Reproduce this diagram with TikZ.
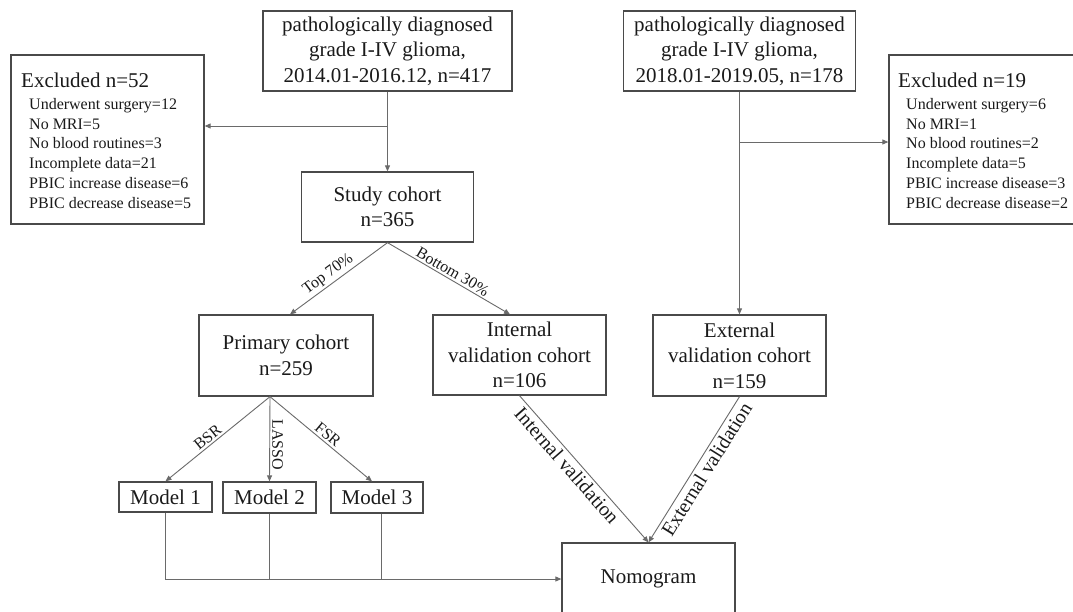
\documentclass[tikz,border=0pt]{standalone}
\usepackage{fontspec}
\setmainfont{Liberation Serif}
\usetikzlibrary{arrows.meta}
\definecolor{txt}{HTML}{1A1A1A}
\definecolor{boxc}{HTML}{4A4A4A}
\definecolor{linec}{HTML}{6A6A6A}
\begin{document}
\begin{tikzpicture}[x=1pt,y=-1pt,
  box/.style={draw=boxc, line width=1.3pt, rectangle, inner sep=0pt, align=center, text=txt, font=\fontsize{21}{25.5}\selectfont},
  frame/.style={draw=boxc, line width=1.3pt, rectangle, inner sep=0pt},
  title/.style={anchor=base west, inner sep=0pt, text=txt, font=\fontsize{21}{25}\selectfont},
  item/.style={anchor=base west, inner sep=0pt, text=txt, font=\fontsize{16}{19}\selectfont},
  conn/.style={draw=linec, line width=0.9pt},
  arr/.style={conn, -{Triangle[length=6pt,width=5pt]}},
  lab/.style={font=\fontsize{16}{19}\selectfont, text=txt, inner sep=2pt, sloped, above},
  vlab/.style={font=\fontsize{20}{24}\selectfont, text=txt, inner sep=3pt, sloped, below}]
\useasboundingbox (0,0) rectangle (1073,611);
\clip (0,0) rectangle (1073,611);
\fill[white] (0,0) rectangle (1073,611);

% source boxes
\node[box, minimum width=249, minimum height=80] (srcA) at (387.5,51) {pathologically diagnosed\\grade I-IV glioma,\\2014.01-2016.12, n=417};
\node[box, minimum width=232, minimum height=80] (srcB) at (739.5,51) {pathologically diagnosed\\grade I-IV glioma,\\2018.01-2019.05, n=178};

% excluded boxes
\node[frame, minimum width=193, minimum height=169] (exL) at (107.5,139.5) {};
\node[title] (exLt) at (21,87.3) {Excluded n=52};
\foreach \t [count=\i] in {Underwent surgery=12, No MRI=5, No blood routines=3, Incomplete data=21, PBIC increase disease=6, PBIC decrease disease=5}
  \node[item] (exLi\i) at (29,{89.8+19.7*\i}) {\t};

\node[frame, minimum width=196, minimum height=169] (exR) at (987,139.5) {};
\node[title] (exRt) at (898,87.3) {Excluded n=19};
\foreach \t [count=\i] in {Underwent surgery=6, No MRI=1, No blood routines=2, Incomplete data=5, PBIC increase disease=3, PBIC decrease disease=2}
  \node[item] (exRi\i) at (906,{89.8+19.7*\i}) {\t};

% cohorts
\node[box, minimum width=172, minimum height=70] (study) at (387.5,207) {Study cohort\\n=365};
\node[box, minimum width=174, minimum height=81] (prim) at (286,355.5) {Primary cohort\\n=259};
\node[box, minimum width=173, minimum height=80] (int) at (519.5,355) {Internal\\validation cohort\\n=106};
\node[box, minimum width=173, minimum height=81] (ext) at (739.5,355.5) {External\\validation cohort\\n=159};

% models
\node[box, minimum width=93, minimum height=30] (m1) at (165.5,497) {Model 1};
\node[box, minimum width=93, minimum height=31] (m2) at (269.5,497.5) {Model 2};
\node[box, minimum width=92, minimum height=31] (m3) at (377,497.5) {Model 3};

% nomogram
\node[box, minimum width=173, minimum height=72] (nomo) at (648.5,579) {Nomogram};

% junctions
\coordinate (jA) at (387.5,126);
\coordinate (jB) at (739.5,142);

% connectors
\draw[arr] (srcA.south) -- (study.north);
\draw[arr] (jA) -- (jA -| exL.east);
\draw[arr] (srcB.south) -- (ext.north);
\draw[arr] (jB) -- (jB -| exR.west);

\draw[arr] (study.south) -- node[lab, pos=0.55] {Top 70\%} ([xshift=4pt]prim.north);
\draw[arr] (study.south) -- node[lab, pos=0.5] {Bottom 30\%} ([xshift=-9.5pt]int.north);

\draw[arr] ([xshift=-16pt]prim.south) -- node[lab, pos=0.55] {BSR} (m1.north);
\draw[arr] ([xshift=-16pt]prim.south) -- node[pos=0.57, rotate=-90, anchor=south, inner sep=2pt, text=txt, font=\fontsize{16}{19}\selectfont] {LASSO} (m2.north);
\draw[arr] ([xshift=-16pt]prim.south) -- node[lab, pos=0.52] {FSR} ([xshift=-5pt]m3.north);

\draw[arr] (int.south) -- node[vlab, pos=0.43] {Internal validation} (nomo.north);
\draw[arr] (ext.south) -- node[vlab, pos=0.46] {External validation} (nomo.north);

\draw[arr] (m1.south) |- (nomo.west);
\draw[conn] (m2.south) -- (m2.south |- nomo.west);
\draw[conn] ([xshift=4pt]m3.south) -- ([xshift=4pt]m3.south |- nomo.west);
\end{tikzpicture}
\end{document}
